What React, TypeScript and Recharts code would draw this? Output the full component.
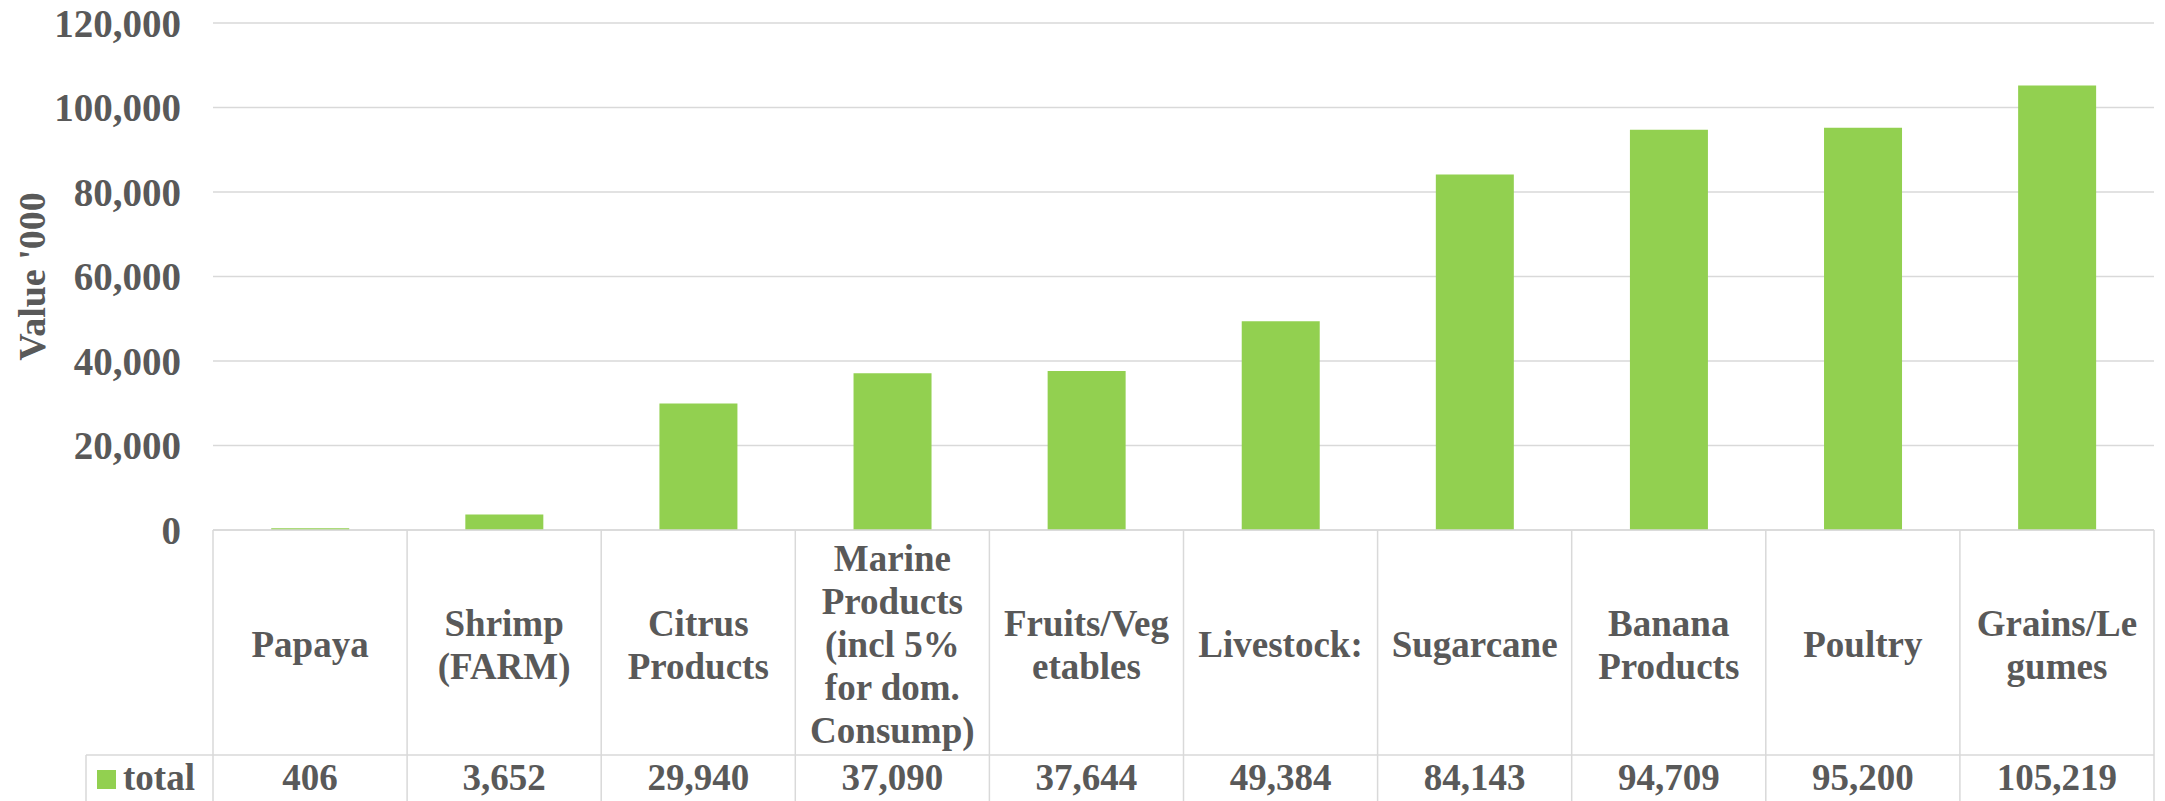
import React from 'react';
import { BarChart, Bar, XAxis, YAxis, CartesianGrid } from 'recharts';

/* chart data */
const CATEGORIES = [
  'Papaya',
  'Shrimp\n(FARM)',
  'Citrus\nProducts',
  'Marine\nProducts\n(incl 5%\nfor dom.\nConsump)',
  'Fruits/Veg\netables',
  'Livestock:',
  'Sugarcane',
  'Banana\nProducts',
  'Poultry',
  'Grains/Le\ngumes',
];
const TOTALS = [406, 3652, 29940, 37090, 37644, 49384, 84143, 94709, 95200, 105219];
const Y_TICKS = [0, 20000, 40000, 60000, 80000, 100000, 120000];
const SERIES_NAME = 'total';
const Y_TITLE = "Value '000";

const data = CATEGORIES.map((name, i) => ({ name, total: TOTALS[i] }));

/* layout */
const W = 2165;
const H = 801;
const PLOT_LEFT = 213;
const PLOT_RIGHT = 2154;
const PLOT_TOP = 23;
const AXIS_Y = 530;
const BAND = (PLOT_RIGHT - PLOT_LEFT) / CATEGORIES.length;
const TABLE_LEFT = 86;
const ROW_SPLIT = 755;
const LINE_H = 43;
const HEADER_MID_BASE = 657;
const VALUE_BASE = 790;

const C = {
  text: '#595959',
  grid: '#D9D9D9',
  bar: '#92D050',
};

const font = {
  fontFamily: "'Liberation Serif', 'Times New Roman', serif",
  fontWeight: 700,
  fontSize: 37,
  fill: C.text,
};

const fmt = (v: number) => v.toLocaleString('en-US');

function TableTick(props: any) {
  const { x, payload, index } = props;
  const lines = String(payload.value).split('\n');
  const left = x - BAND / 2;
  const right = x + BAND / 2;
  return (
    <g>
      <line x1={left} y1={AXIS_Y} x2={left} y2={H + 10} stroke={C.grid} strokeWidth={1.5} />
      {index === CATEGORIES.length - 1 && (
        <line x1={right} y1={AXIS_Y} x2={right} y2={H + 10} stroke={C.grid} strokeWidth={1.5} />
      )}
      {index === 0 && (
        <g>
          <line x1={TABLE_LEFT} y1={ROW_SPLIT} x2={PLOT_RIGHT} y2={ROW_SPLIT} stroke={C.grid} strokeWidth={1.5} />
          <line x1={TABLE_LEFT} y1={ROW_SPLIT} x2={TABLE_LEFT} y2={H + 10} stroke={C.grid} strokeWidth={1.5} />
          <rect x={TABLE_LEFT + 11} y={770} width={19} height={19} fill={C.bar} />
          <text x={TABLE_LEFT + 37} y={VALUE_BASE} textAnchor="start" {...font}>{SERIES_NAME}</text>
        </g>
      )}
      {lines.map((ln, i) => (
        <text
          key={i}
          x={x}
          y={HEADER_MID_BASE + (i - (lines.length - 1) / 2) * LINE_H}
          textAnchor="middle"
          {...font}
        >
          {ln}
        </text>
      ))}
      <text x={x} y={VALUE_BASE} textAnchor="middle" {...font}>{fmt(TOTALS[index])}</text>
    </g>
  );
}

export default function App() {
  return (
    <div style={{ position: 'absolute', left: 0, top: 0, width: W, height: H, background: '#FFFFFF' }}>
      <BarChart
        width={W}
        height={H}
        data={data}
        margin={{ top: PLOT_TOP, right: W - PLOT_RIGHT, left: 0, bottom: 0 }}
        barCategoryGap="30%"
      >
        <CartesianGrid vertical={false} stroke={C.grid} strokeWidth={1.5} />
        <XAxis
          dataKey="name"
          height={H - AXIS_Y}
          interval={0}
          tickLine={false}
          tickSize={0}
          tickMargin={0}
          axisLine={{ stroke: C.grid, strokeWidth: 1.5 }}
          tick={<TableTick />}
        />
        <YAxis
          width={PLOT_LEFT}
          domain={[0, 120000]}
          ticks={Y_TICKS}
          tickFormatter={fmt}
          axisLine={false}
          tickLine={false}
          tickSize={0}
          tickMargin={32}
          tick={{ ...font, fontSize: 39 }}
          label={{
            value: Y_TITLE,
            angle: -90,
            position: 'insideLeft',
            offset: 32,
            style: { ...font, fontSize: 38, textAnchor: 'middle' },
          }}
        />
        <Bar dataKey="total" fill={C.bar} isAnimationActive={false} />
      </BarChart>
    </div>
  );
}
